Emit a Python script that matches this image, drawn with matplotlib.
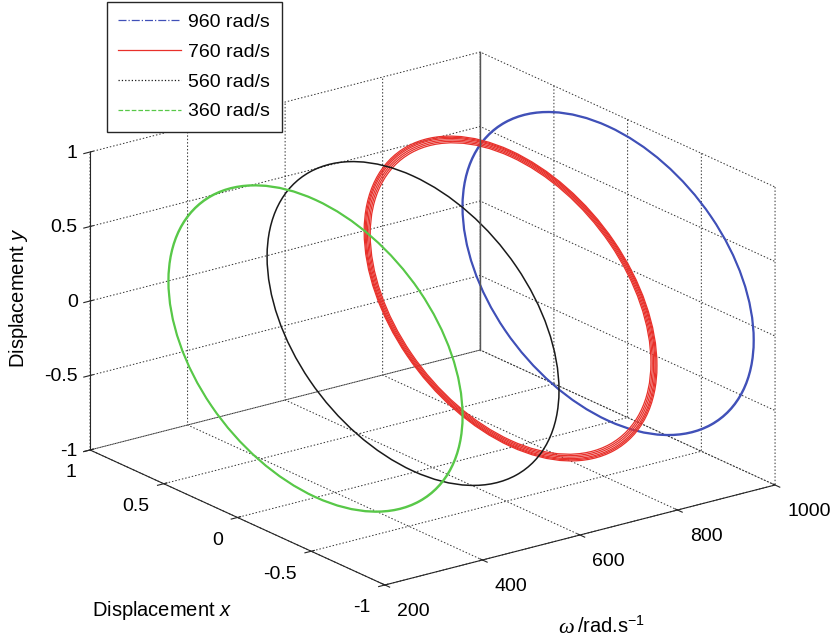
import numpy as np
import matplotlib
matplotlib.use('Agg')
import matplotlib.pyplot as plt
from matplotlib.patches import Circle
from matplotlib.lines import Line2D
from mpl_toolkits.mplot3d import art3d, proj3d

plt.rcParams['font.family'] = ['Liberation Sans', 'DejaVu Sans']
plt.rcParams['font.size'] = 14
plt.rcParams['mathtext.fontset'] = 'custom'
plt.rcParams['mathtext.rm'] = 'Liberation Sans'
plt.rcParams['mathtext.it'] = 'Liberation Sans:italic'
plt.rcParams['axes.unicode_minus'] = False
plt.rcParams['grid.color'] = '#303030'
plt.rcParams['grid.linestyle'] = (0, (1.5, 2.0))
plt.rcParams['grid.linewidth'] = 0.7

# --- data ---------------------------------------------------------------
speeds = [960, 760, 560, 360]
labels = ['960 rad/s', '760 rad/s', '560 rad/s', '360 rad/s']
colors = ['#4050B8', '#E8302A', '#1A1A1A', '#58C848']
legend_styles = ['-.', '-', ':', '--']

# orbit loops for each speed (radius of each loop, orbit centred at 0,0)
radii_960 = [0.985, 0.99]
radii_760 = [0.952, 0.961, 0.970, 0.979, 0.986, 0.993]
radii_560 = [0.99]
radii_360 = [0.995, 1.0]
orbit_radii = [radii_960, radii_760, radii_560, radii_360]

w_ticks = [200, 400, 600, 800, 1000]
disp_ticks = [-1, -0.5, 0, 0.5, 1]
disp_tick_labels = ['-1', '-0.5', '0', '0.5', '1']
w_lim = (200, 1000)
d_lim = (-1, 1)

# --- figure ---------------------------------------------------------------
W, H = 834, 642
fig = plt.figure(figsize=(W / 100, H / 100), dpi=100)
ax = fig.add_axes([0, 0, 1, 1], projection='3d', proj_type='ortho')
ax.computed_zorder = False

# x: omega, y: displacement x, z: displacement y
ax.set_xlim(*w_lim)
ax.set_ylim(*d_lim)
ax.set_zlim(*d_lim)
ax.set_box_aspect((487, 492, 317))
ax.view_init(elev=20.03, azim=233.2)

for sp, col, radii in zip(speeds, colors, orbit_radii):
    lw = 0.9 if len(radii) > 2 else 1.1
    for r in radii:
        c = Circle((0, 0), r, fill=False, ec=col, lw=lw, zorder=3)
        ax.add_patch(c)
        art3d.pathpatch_2d_to_3d(c, z=sp, zdir='x')

# solid back vertical edge (MATLAB box)
ax.plot([w_lim[1]] * 2, [d_lim[1]] * 2, list(d_lim), color='#555555',
        lw=1.0, zorder=5)

ax.set_xticks(w_ticks)
ax.set_xticklabels([str(t) for t in w_ticks], ha='left')
ax.set_yticks(disp_ticks)
ax.set_yticklabels(disp_tick_labels, ha='right')
ax.set_zticks(disp_ticks)
ax.set_zticklabels(disp_tick_labels, ha='right', va='center_baseline')

for axis in (ax.xaxis, ax.yaxis, ax.zaxis):
    axis.set_pane_color((1, 1, 1, 0))
    axis.pane.set_edgecolor((1, 1, 1, 0))
    axis.line.set_color('#262626')
    axis.line.set_linewidth(0.8)
ax.tick_params(colors='#262626', labelcolor='k', labelsize=14, width=0.8)
ax.zaxis.set_tick_params(pad=-3)
ax.yaxis.set_tick_params(pad=2)

# --- place the box like the original --------------------------------------
def corners_px(pts):
    xs, ys, zs = np.array(pts).T
    px, py, _ = proj3d.proj_transform(xs, ys, zs, ax.get_proj())
    return ax.transData.transform(np.column_stack([px, py]))

ref_pts = [(w_lim[0], d_lim[1], d_lim[1]),
           (w_lim[1], d_lim[0], d_lim[0]),
           (w_lim[0], d_lim[0], d_lim[0])]
target = np.array([(90, H - 152), (775, H - 485), (385, H - 585)], float)

for _ in range(2):
    fig.canvas.draw()
    p = corners_px(ref_pts)
    bb = ax.get_position(original=False)
    cen = np.array([(bb.x0 + bb.x1) / 2 * W, (bb.y0 + bb.y1) / 2 * H])
    side = bb.width * W
    u = p - cen
    ub, qb = u.mean(0), target.mean(0)
    k = ((u - ub) * (target - qb)).sum() / ((u - ub) ** 2).sum()
    newc = qb - k * ub
    s = side * k
    ax.set_position([(newc[0] - s / 2) / W, (newc[1] - s / 2) / H, s / W, s / H])

# --- labels ---------------------------------------------------------------
fig.text(162 / W, 1 - 610 / H, 'Displacement $x$', ha='center', va='center',
         fontsize=14.5)
fig.text(19 / W, 1 - 298 / H, 'Displacement $y$', ha='center', va='center',
         rotation=90, fontsize=14.5)
fig.text(558 / W, 1 - 633 / H, 'ω', family=['Liberation Serif', 'DejaVu Serif'],
         style='italic', fontsize=16, ha='left', va='baseline')
fig.text(577 / W, 1 - 633 / H, '/rad.s$^{-1}$', ha='left', va='baseline',
         fontsize=14.5)

handles = [Line2D([], [], color=c, ls=ls, lw=0.9)
           for c, ls in zip(colors, legend_styles)]
fig.legend(handles, labels, loc='upper left',
           bbox_to_anchor=(107 / W, 1 - 2 / H), borderaxespad=0,
           fancybox=False, edgecolor='#262626', framealpha=1,
           handlelength=3.25, handletextpad=0.36, labelspacing=0.63,
           borderpad=0.58, fontsize=14)

fig.savefig('out.png', dpi=100)
